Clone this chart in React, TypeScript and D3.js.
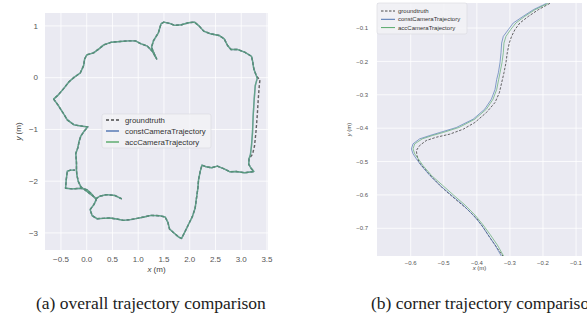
import React, { useEffect, useRef } from "react";
import * as d3 from "d3";

const W = 587;
const H = 322;

// (a) overall trajectory, metres. The path is split so groundtruth can differ on the right side.
const pathStartX = [0.682, 0.55, 0.384, 0.252, 0.185, 0.086, -0.026, -0.113, -0.166, -0.192, -0.199, -0.199, -0.212, -0.172, -0.146, -0.113, -0.046, 0.02, -0.079, -0.245, -0.377, -0.464, -0.556, -0.642, -0.556, -0.444, -0.344, -0.245, -0.126, -0.06, -0.04, 0.0, 0.132, 0.238, 0.331, 0.483, 0.649, 0.815, 0.947, 1.046, 1.179, 1.278, 1.358, 1.311, 1.258, 1.298, 1.391, 1.444, 1.497, 1.609, 1.709, 1.841, 1.974, 2.093, 2.185, 2.272, 2.404, 2.57, 2.669, 2.735, 2.801, 2.934, 3.066, 3.199, 3.219, 3.245, 3.298];
const pathStartY = [-2.343, -2.278, -2.259, -2.291, -2.337, -2.259, -2.175, -2.11, -2.0, -1.871, -1.786, -1.644, -1.463, -1.353, -1.223, -1.126, -1.029, -0.951, -0.939, -0.913, -0.816, -0.673, -0.531, -0.414, -0.337, -0.207, -0.078, 0.006, 0.091, 0.233, 0.362, 0.44, 0.479, 0.557, 0.634, 0.686, 0.699, 0.712, 0.712, 0.66, 0.608, 0.505, 0.362, 0.46, 0.589, 0.718, 0.867, 1.042, 1.074, 1.049, 1.01, 1.023, 1.061, 1.074, 0.997, 0.9, 0.848, 0.816, 0.751, 0.621, 0.544, 0.544, 0.492, 0.414, 0.33, 0.168, 0.026];
const gtRightX = [3.364, 3.351, 3.331, 3.311, 3.285, 3.258, 3.219];
const gtRightY = [-0.039, -0.155, -0.414, -0.738, -1.061, -1.32, -1.482];
const estRightX = [3.311, 3.272, 3.252, 3.232, 3.219, 3.199, 3.179];
const estRightY = [-0.013, -0.155, -0.414, -0.738, -1.061, -1.32, -1.482];
const pathEndX = [3.152, 3.146, 3.199, 3.245, 3.066, 2.901, 2.781, 2.669, 2.536, 2.424, 2.318, 2.238, 2.205, 2.172, 2.159, 2.132, 2.106, 2.053, 1.974, 1.894, 1.841, 1.788, 1.695, 1.609, 1.576, 1.523, 1.411, 1.245, 1.113, 0.98, 0.848, 0.715, 0.583, 0.45, 0.318, 0.199, 0.106, 0.066, 0.139, 0.185, 0.086, 0.0, -0.113, -0.278, -0.411, -0.397, -0.377, -0.311, -0.225];
const pathEndY = [-1.566, -1.676, -1.761, -1.812, -1.838, -1.812, -1.819, -1.761, -1.709, -1.741, -1.722, -1.689, -1.806, -1.968, -2.129, -2.324, -2.518, -2.68, -2.841, -3.003, -3.107, -3.081, -3.003, -2.926, -2.796, -2.693, -2.667, -2.66, -2.693, -2.718, -2.744, -2.757, -2.731, -2.712, -2.718, -2.725, -2.667, -2.55, -2.453, -2.356, -2.239, -2.162, -2.136, -2.149, -2.136, -1.968, -1.806, -1.786, -1.786];

const leftXTicks = [-0.5, 0, 0.5, 1, 1.5, 2, 2.5, 3, 3.5];
const leftYTicks = [-3, -2, -1, 0, 1];

// (b) the corner, metres
const cornerGtX = [-0.179, -0.214, -0.244, -0.27, -0.285, -0.295, -0.302, -0.308, -0.312, -0.318, -0.325, -0.332, -0.345, -0.371, -0.406, -0.441, -0.482, -0.522, -0.553, -0.573, -0.583, -0.581, -0.575, -0.558, -0.532, -0.502, -0.467, -0.431, -0.401, -0.379, -0.359, -0.338, -0.32];
const cornerGtY = [-0.026, -0.045, -0.065, -0.085, -0.105, -0.125, -0.145, -0.174, -0.204, -0.234, -0.264, -0.294, -0.323, -0.353, -0.383, -0.403, -0.418, -0.427, -0.437, -0.452, -0.467, -0.482, -0.502, -0.522, -0.551, -0.581, -0.611, -0.641, -0.67, -0.7, -0.73, -0.76, -0.785];
const cornerEstY = [-0.026, -0.045, -0.065, -0.085, -0.105, -0.125, -0.145, -0.174, -0.204, -0.234, -0.254, -0.284, -0.313, -0.343, -0.373, -0.398, -0.413, -0.422, -0.432, -0.447, -0.462, -0.477, -0.492, -0.512, -0.542, -0.571, -0.601, -0.631, -0.661, -0.69, -0.72, -0.75, -0.785];
const cornerConstX = [-0.189, -0.229, -0.26, -0.29, -0.305, -0.32, -0.325, -0.327, -0.33, -0.335, -0.34, -0.345, -0.356, -0.376, -0.411, -0.462, -0.512, -0.542, -0.573, -0.593, -0.598, -0.593, -0.583, -0.568, -0.542, -0.512, -0.477, -0.441, -0.411, -0.386, -0.366, -0.345, -0.325];
const cornerAccX = [-0.184, -0.224, -0.255, -0.282, -0.298, -0.312, -0.318, -0.32, -0.324, -0.33, -0.334, -0.34, -0.351, -0.371, -0.406, -0.454, -0.502, -0.534, -0.565, -0.588, -0.593, -0.588, -0.577, -0.563, -0.537, -0.504, -0.47, -0.435, -0.405, -0.381, -0.359, -0.338, -0.318];

const rightXTicks = [-0.6, -0.5, -0.4, -0.3, -0.2, -0.1];
const rightYTicks = [-0.7, -0.6, -0.5, -0.4, -0.3, -0.2, -0.1];

const seriesNames = ["groundtruth", "constCameraTrajectory", "accCameraTrajectory"];
const seriesColors = ["#4a4a4a", "#4c72b0", "#55a868"];
const captions = ["(a) overall trajectory comparison", "(b) corner trajectory comparison"];

const FONT = "'Liberation Sans', 'DejaVu Sans', sans-serif";

function zip(xs, ys) {
  return xs.map((v, i) => [v, ys[i]]);
}

function drawPanel(svg, p) {
  const x = d3.scaleLinear().domain(p.xDomain).range([p.left, p.right]);
  const y = d3.scaleLinear().domain(p.yDomain).range([p.bottom, p.top]);
  const g = svg.append("g");

  g.append("rect")
    .attr("x", p.left)
    .attr("y", p.top)
    .attr("width", p.right - p.left)
    .attr("height", p.bottom - p.top)
    .attr("fill", "#eaeaf2");

  g.selectAll(".gx")
    .data(p.xTicks)
    .join("line")
    .attr("x1", (d) => x(d))
    .attr("x2", (d) => x(d))
    .attr("y1", p.top)
    .attr("y2", p.bottom)
    .attr("stroke", "#fff")
    .attr("stroke-width", 0.8);
  g.selectAll(".gy")
    .data(p.yTicks)
    .join("line")
    .attr("x1", p.left)
    .attr("x2", p.right)
    .attr("y1", (d) => y(d))
    .attr("y2", (d) => y(d))
    .attr("stroke", "#fff")
    .attr("stroke-width", 0.8);

  g.selectAll(".tx")
    .data(p.xTicks)
    .join("text")
    .attr("x", (d) => x(d))
    .attr("y", p.bottom + p.xTickGap)
    .attr("text-anchor", "middle")
    .attr("font-family", FONT)
    .attr("font-size", p.tickSize)
    .attr("fill", "#555")
    .text((d) => d3.format(p.xFmt)(d));
  g.selectAll(".ty")
    .data(p.yTicks)
    .join("text")
    .attr("x", p.left - p.yTickGap)
    .attr("y", (d) => y(d))
    .attr("dy", "0.35em")
    .attr("text-anchor", "end")
    .attr("font-family", FONT)
    .attr("font-size", p.tickSize)
    .attr("fill", "#555")
    .text((d) => d3.format(p.yFmt)(d));

  const xl = g.append("text")
    .attr("x", (p.left + p.right) / 2)
    .attr("y", p.xLabelY)
    .attr("text-anchor", "middle")
    .attr("font-family", FONT)
    .attr("font-size", p.tickSize)
    .attr("fill", "#444");
  xl.append("tspan").attr("font-style", "italic").text("x");
  xl.append("tspan").text(" (m)");

  const yl = g.append("text")
    .attr("transform", `translate(${p.yLabelX},${(p.top + p.bottom) / 2}) rotate(-90)`)
    .attr("text-anchor", "middle")
    .attr("font-family", FONT)
    .attr("font-size", p.tickSize)
    .attr("fill", "#444");
  yl.append("tspan").attr("font-style", "italic").text("y");
  yl.append("tspan").text(" (m)");

  g.append("clipPath")
    .attr("id", p.id)
    .append("rect")
    .attr("x", p.left)
    .attr("y", p.top)
    .attr("width", p.right - p.left)
    .attr("height", p.bottom - p.top);

  const line = d3.line().x((d) => x(d[0])).y((d) => y(d[1]));
  const lg = g.append("g").attr("clip-path", `url(#${p.id})`);
  p.series.forEach((s, i) => {
    lg.append("path")
      .datum(s)
      .attr("d", line)
      .attr("fill", "none")
      .attr("stroke", seriesColors[i])
      .attr("stroke-width", p.lineWidth)
      .attr("stroke-opacity", i === 0 ? 0.85 : 0.65)
      .attr("stroke-dasharray", i === 0 ? p.dash : null)
      .attr("stroke-linejoin", "round");
  });

  // legend
  const L = p.legend;
  g.append("rect")
    .attr("x", L.x)
    .attr("y", L.y)
    .attr("width", L.w)
    .attr("height", L.h)
    .attr("rx", 2)
    .attr("fill", "#f2f2f6")
    .attr("fill-opacity", 0.85)
    .attr("stroke", "#d8d8de")
    .attr("stroke-width", 0.6);
  seriesNames.forEach((name, i) => {
    const ly = L.y + L.pad + i * L.step;
    g.append("line")
      .attr("x1", L.x + L.lineX0)
      .attr("x2", L.x + L.lineX1)
      .attr("y1", ly)
      .attr("y2", ly)
      .attr("stroke", seriesColors[i])
      .attr("stroke-width", p.lineWidth)
      .attr("stroke-dasharray", i === 0 ? p.dash : null);
    g.append("text")
      .attr("x", L.x + L.textX)
      .attr("y", ly)
      .attr("dy", "0.35em")
      .attr("font-family", FONT)
      .attr("font-size", L.size)
      .attr("fill", "#333")
      .text(name);
  });
}

export default function App() {
  const ref = useRef(null);

  useEffect(() => {
    document.body.style.margin = "0";
    const svg = d3.select(ref.current);
    svg.selectAll("*").remove();

    const gt = zip([...pathStartX, ...gtRightX, ...pathEndX], [...pathStartY, ...gtRightY, ...pathEndY]);
    const est = zip([...pathStartX, ...estRightX, ...pathEndX], [...pathStartY, ...estRightY, ...pathEndY]);

    drawPanel(svg, {
      id: "clipA",
      left: 45, right: 268, top: 13, bottom: 250,
      xDomain: [-0.81, 3.52], yDomain: [-3.33, 1.25],
      xTicks: leftXTicks, yTicks: leftYTicks,
      xFmt: ".1f", yFmt: "d",
      tickSize: 8, xTickGap: 12, yTickGap: 7,
      xLabelY: 272, yLabelX: 21,
      lineWidth: 1.4, dash: "3,2",
      series: [gt, est, est],
      legend: { x: 102, y: 114, w: 109, h: 34, pad: 6, step: 11, lineX0: 4, lineX1: 17, textX: 23, size: 7.8 },
    });

    drawPanel(svg, {
      id: "clipB",
      left: 377, right: 582, top: 3, bottom: 256,
      xDomain: [-0.702, -0.082], yDomain: [-0.783, -0.025],
      xTicks: rightXTicks, yTicks: rightYTicks,
      xFmt: ".1f", yFmt: ".1f",
      tickSize: 6, xTickGap: 9, yTickGap: 9,
      xLabelY: 270, yLabelX: 351,
      lineWidth: 1, dash: "2.5,1.5",
      series: [zip(cornerGtX, cornerGtY), zip(cornerConstX, cornerEstY), zip(cornerAccX, cornerEstY)],
      legend: { x: 377, y: 3, w: 90, h: 31, pad: 8, step: 8.3, lineX0: 4, lineX1: 18, textX: 21, size: 6 },
    });

    svg.selectAll(".cap")
      .data(captions)
      .join("text")
      .attr("x", (d, i) => (i === 0 ? 36 : 371))
      .attr("y", 309)
      .attr("text-anchor", "start")
      .attr("font-family", "'Liberation Serif', 'Times New Roman', serif")
      .attr("font-size", 17.5)
      .attr("fill", "#222")
      .text((d) => d);
  }, []);

  return <svg ref={ref} width={W} height={H} style={{ display: "block", background: "#fff" }} />;
}
